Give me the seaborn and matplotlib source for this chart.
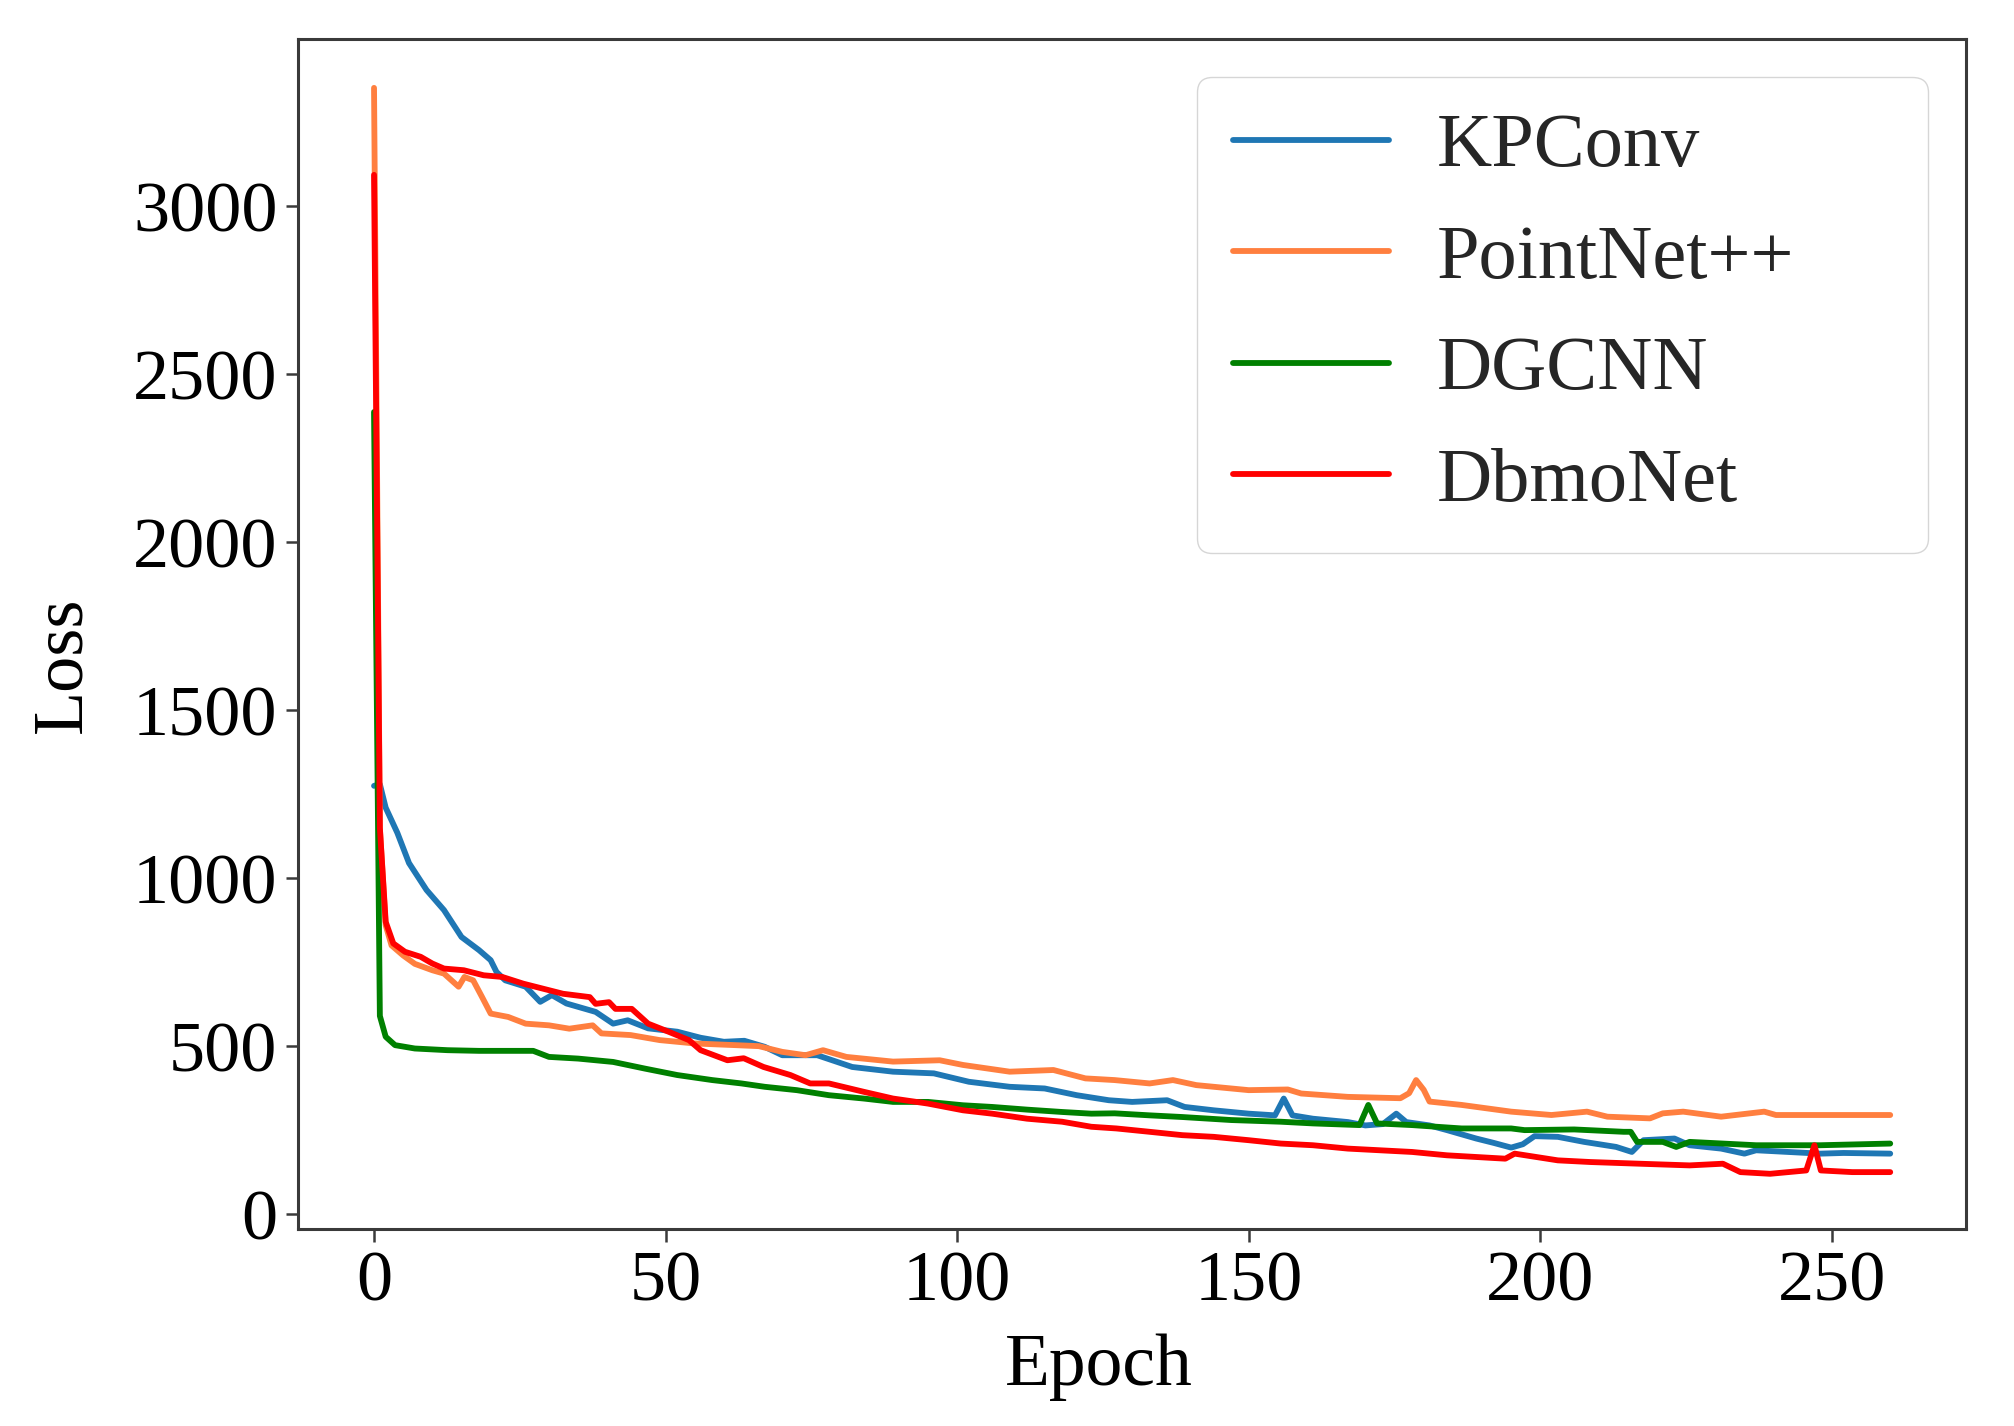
import matplotlib
matplotlib.use("Agg")
import matplotlib.pyplot as plt
import seaborn as sns
import pandas as pd

# ---------------- data ----------------
models = ["KPConv", "PointNet++", "DGCNN", "DbmoNet"]
colors = ["#1f77b4", "#ff7f3f", "#008000", "#ff0000"]

kp_epoch = [0, 1, 2, 4, 6, 9, 12, 15, 18, 20, 21, 22.5, 26, 28.5, 30.5, 33, 38, 41,
            43.5, 47, 52, 56, 60, 63.5, 67, 70, 76, 82, 89, 96, 102, 109, 115, 120.5,
            126, 130, 136, 139, 144, 150, 154.5, 156, 157.5, 161, 167, 170, 173, 175.3,
            177, 181, 184, 189, 192, 195, 197, 199, 203, 207.5, 213, 215.7, 217.7, 223,
            225.6, 231, 235, 237, 242.5, 248, 252, 260]
kp_loss = [1275, 1280, 1210, 1135, 1045, 965, 905, 825, 786, 756, 721, 696, 677, 632,
           652, 627, 602, 567, 577, 553, 543, 525, 513, 516, 498, 473, 473, 438, 424,
           419, 394, 379, 374, 354, 339, 334, 339, 319, 309, 299, 294, 344, 294, 284,
           274, 264, 268, 299, 274, 264, 250, 225, 212, 198, 208, 232, 230, 215, 200,
           185, 220, 225, 205, 195, 180, 190, 185, 180, 182, 180]

pn_epoch = [0, 1, 2, 3, 5, 7, 10, 12, 14.5, 15.5, 17, 18.5, 20, 23, 26, 30, 33.5, 37.5,
            39, 44, 49, 55, 62, 66, 70, 74, 77, 81, 89, 97, 101, 109, 116.5, 122, 127,
            133, 137, 141, 150, 156.7, 159, 167, 176, 177.5, 178.7, 180, 181, 186.5, 195,
            201.9, 208, 211.5, 218.8, 221, 224.5, 231, 238.4, 240.4, 248, 260]
pn_loss = [3353, 1150, 860, 800, 770, 745, 726, 716, 677, 706, 696, 647, 597, 587, 567,
           562, 552, 562, 538, 533, 518, 508, 503, 500, 483, 473, 488, 468, 454, 458,
           444, 424, 429, 404, 399, 389, 399, 384, 369, 371, 359, 349, 345, 360, 399,
           370, 335, 325, 305, 295, 305, 290, 285, 300, 305, 290, 305, 295, 295, 295]

dg_epoch = [0, 1, 2, 3.6, 7, 12.6, 18, 24, 27.3, 30, 35, 41, 46.5, 52, 58, 63, 67, 72.5,
            78, 84, 89, 95, 101, 106, 112, 118, 123, 127, 133, 138.6, 147, 155.5, 161,
            169, 170.5, 172, 178, 186.5, 195, 197.3, 205.8, 214.3, 215.5, 216.6, 221,
            223.3, 225.6, 237, 248, 260]
dg_loss = [2388, 590, 528, 503, 493, 488, 486, 486, 486, 468, 463, 453, 433, 414, 399,
           389, 379, 369, 354, 344, 334, 334, 324, 319, 311, 304, 299, 300, 294, 289,
           280, 275, 270, 265, 325, 270, 265, 255, 255, 250, 252, 245, 245, 215, 215,
           200, 215, 205, 205, 210]

db_epoch = [0, 1, 2, 3.3, 5.3, 8, 10, 12, 15.4, 18.8, 22, 25.6, 29, 32.4, 37, 38, 40.3,
            41.4, 44.2, 47, 50.5, 54, 56, 60.6, 63.4, 66.8, 71.4, 74.8, 78, 84, 89, 95,
            101, 106, 112, 118, 123, 127.3, 133, 138.6, 144, 150, 155.5, 161, 167, 172.5,
            178, 184, 189, 194, 195.6, 203, 208.6, 217, 225.6, 231.3, 234.3, 239.4,
            245.6, 247, 248.1, 253.5, 260]
db_loss = [3094, 1150, 870, 806, 781, 766, 746, 731, 726, 711, 706, 686, 671, 656, 646,
           626, 631, 611, 611, 567, 543, 518, 488, 458, 464, 438, 414, 389, 389, 364,
           344, 329, 309, 299, 284, 275, 260, 255, 245, 235, 230, 220, 210, 205, 195,
           190, 185, 175, 170, 165, 180, 160, 155, 150, 145, 150, 125, 120, 130, 205,
           130, 125, 125]

x_ticks = [0, 50, 100, 150, 200, 250]
y_ticks = [0, 500, 1000, 1500, 2000, 2500, 3000]

# ---------------- build table ----------------
frames = []
for name, ep, ls in zip(models, [kp_epoch, pn_epoch, dg_epoch, db_epoch],
                        [kp_loss, pn_loss, dg_loss, db_loss]):
    frames.append(pd.DataFrame({"Epoch": ep, "Loss": ls, "Model": name}))
df = pd.concat(frames, ignore_index=True)

sns.set_theme(style="ticks")
plt.rcParams["font.family"] = ["Liberation Serif", "DejaVu Serif"]

fig, ax = plt.subplots(figsize=(20.15, 14.26), dpi=100)
fig.subplots_adjust(left=0.148, right=0.9757, bottom=0.138, top=0.973)

sns.lineplot(data=df, x="Epoch", y="Loss", hue="Model", hue_order=models,
             palette=dict(zip(models, colors)), linewidth=4.2,
             estimator=None, sort=False, ax=ax)

ax.set_xlim(-13, 273)
ax.set_ylim(-45, 3500)
ax.set_xticks(x_ticks)
ax.set_yticks(y_ticks)

for s in ax.spines.values():
    s.set_visible(True)
    s.set_color("#3a3a3a")
    s.set_linewidth(2.2)
ax.tick_params(axis="both", labelsize=52, length=9, width=1.8,
               color="#3a3a3a", pad=6, labelcolor="black")

ax.set_xlabel("Epoch", fontsize=53, labelpad=13, color="black", x=0.48)
ax.set_ylabel("Loss", fontsize=52, labelpad=27, color="black", y=0.474)

h, l = ax.get_legend_handles_labels()
leg = ax.legend(h, l, loc="upper left", bbox_to_anchor=(0.5388, 0.0, 0.4381, 0.9676),
                mode="expand", borderaxespad=0, fontsize=55, frameon=True,
                fancybox=True, framealpha=0.8, edgecolor="#cccccc",
                labelspacing=0.55, borderpad=0.47, handletextpad=0.62,
                handlelength=2.05)
for line in leg.get_lines():
    line.set_linewidth(4.2)

fig.savefig("out.png", dpi=100)
